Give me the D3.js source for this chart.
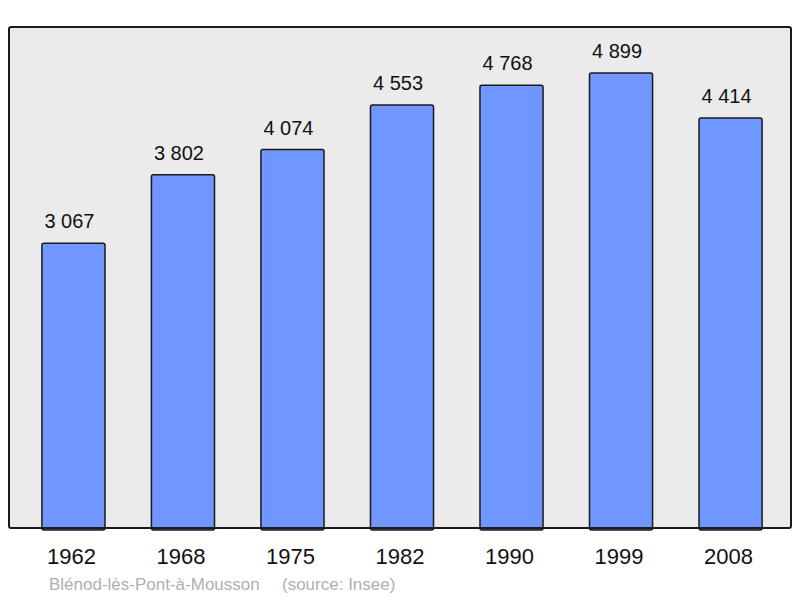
<!DOCTYPE html>
<html>
  <head>
    <meta charset="utf-8" />
    <title>population</title>
    <style>
      html,
      body {
        margin: 0;
        padding: 0;
        background: #fff;
      }
      svg {
        display: block;
        font-family: 'Liberation Sans', Arial, Helvetica, sans-serif;
      }
    </style>
  </head>
  <body>
    <svg width="800" height="598"></svg>
    <script src="https://cdn.jsdelivr.net/npm/d3@7/dist/d3.min.js"></script>
    <script>
      const years = ['1962', '1968', '1975', '1982', '1990', '1999', '2008'];
      const population = [3067, 3802, 4074, 4553, 4768, 4899, 4414];
      const place = 'Blénod-lès-Pont-à-Mousson';
      const source = '(source: Insee)';

      const svg = d3.select('svg');
      const frame = { x: 9, y: 27, w: 782, h: 501 }; // plot frame

      const x = d3
        .scaleBand()
        .domain(years)
        .range([20, 784])
        .paddingInner(0.424)
        .paddingOuter(0.2);

      const y = d3
        .scaleLinear()
        .domain([0, 5394])
        .range([frame.y + frame.h, frame.y]);

      // background
      svg
        .append('rect')
        .attr('x', frame.x)
        .attr('y', frame.y)
        .attr('width', frame.w)
        .attr('height', frame.h)
        .attr('rx', 2)
        .attr('fill', '#ebebeb');

      const rows = years.map((yr, i) => ({ year: yr, value: population[i] }));

      // bars
      svg
        .append('g')
        .selectAll('rect')
        .data(rows)
        .join('rect')
        .attr('x', (d) => x(d.year))
        .attr('y', (d) => y(d.value))
        .attr('width', x.bandwidth())
        .attr('height', (d) => y(0) - y(d.value) + 2)
        .attr('rx', 2)
        .attr('fill', '#7096ff')
        .attr('stroke', '#1a1a1a')
        .attr('stroke-width', 1.5);

      // value labels, space as thousands separator
      const fmt = d3.formatLocale({ thousands: ' ', grouping: [3], decimal: ',', currency: ['', ''] }).format(',d');
      svg
        .append('g')
        .attr('text-anchor', 'middle')
        .attr('font-size', 20)
        .attr('fill', '#111')
        .selectAll('text')
        .data(rows)
        .join('text')
        .attr('x', (d) => x(d.year) + x.bandwidth() / 2 - 4)
        .attr('y', (d) => y(d.value) - 15)
        .text((d) => fmt(d.value));

      // frame border on top
      svg
        .append('rect')
        .attr('x', frame.x)
        .attr('y', frame.y)
        .attr('width', frame.w)
        .attr('height', frame.h)
        .attr('rx', 2)
        .attr('fill', 'none')
        .attr('stroke', '#1a1a1a')
        .attr('stroke-width', 2);

      // x axis labels
      const axis = svg
        .append('g')
        .attr('transform', `translate(-2,${frame.y + frame.h})`)
        .call(d3.axisBottom(x).tickSize(0).tickPadding(20));
      axis.select('.domain').remove();
      axis
        .selectAll('text')
        .attr('font-size', 22)
        .attr('font-family', "'Liberation Sans', Arial, sans-serif")
        .attr('fill', '#111');

      // footer
      const foot = svg
        .append('g')
        .attr('font-size', 17)
        .attr('fill', '#b0b0b0');
      foot.append('text').attr('x', 49).attr('y', 590).text(place);
      foot.append('text').attr('x', 282).attr('y', 590).text(source);
    </script>
  </body>
</html>
